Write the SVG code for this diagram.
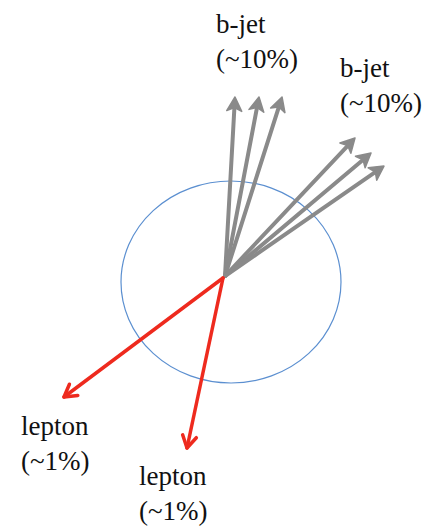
<svg xmlns="http://www.w3.org/2000/svg" width="433" height="527" viewBox="0 0 433 527">
<defs>
<style>
text{font-family:"Liberation Serif","Times New Roman",serif;font-size:27px;fill:#111}
.jet{stroke:#8a8a8a;stroke-width:4;fill:none;stroke-linecap:round}
.lep{stroke:#ee2a1e;stroke-width:3.5;fill:none;stroke-linecap:round}
</style>
<marker id="gh" viewBox="-8 -9 20 18" markerWidth="20" markerHeight="18" refX="0" refY="0" orient="auto" markerUnits="userSpaceOnUse" overflow="visible">
<path d="M8,0 L-6,-7.5 L-2.5,0 L-6,7.5 Z" fill="#8a8a8a" stroke="#8a8a8a" stroke-width="1.5" stroke-linejoin="round"/>
</marker>
<marker id="rh" viewBox="-14 -9 16 18" markerWidth="16" markerHeight="18" refX="0" refY="0" orient="auto" markerUnits="userSpaceOnUse" overflow="visible">
<path d="M-12,-7 L0,0 L-12,7" fill="none" stroke="#ee2a1e" stroke-width="3.5" stroke-linecap="round" stroke-linejoin="round"/>
</marker>
</defs>
<g id="detector">
<ellipse cx="231" cy="282" rx="110" ry="101" fill="none" stroke="#5b8fd0" stroke-width="1.2"/>
</g>
<g id="connectors">
<line class="jet" x1="225" y1="276" x2="234.55" y2="105" marker-end="url(#gh)"/>
<line class="jet" x1="225" y1="276" x2="257.5" y2="104.9" marker-end="url(#gh)"/>
<line class="jet" x1="225" y1="276" x2="279.6" y2="104.6" marker-end="url(#gh)"/>
<line class="jet" x1="225" y1="276" x2="349.5" y2="143.8" marker-end="url(#gh)"/>
<line class="jet" x1="225" y1="276" x2="364.9" y2="158.2" marker-end="url(#gh)"/>
<line class="jet" x1="225" y1="276" x2="377.4" y2="170.6" marker-end="url(#gh)"/>
<line class="lep" x1="223" y1="278" x2="64" y2="397" marker-end="url(#rh)"/>
<line class="lep" x1="223" y1="278" x2="187" y2="448" marker-end="url(#rh)"/>
</g>
<g id="bjet1"><text x="216" y="33">b-jet</text><text x="216" y="68">(~10%)</text></g>
<g id="bjet2"><text x="340" y="77">b-jet</text><text x="340" y="112">(~10%)</text></g>
<g id="lepton1"><text x="21" y="435">lepton</text><text x="21" y="470">(~1%)</text></g>
<g id="lepton2"><text x="139" y="485">lepton</text><text x="139" y="520">(~1%)</text></g>
</svg>
